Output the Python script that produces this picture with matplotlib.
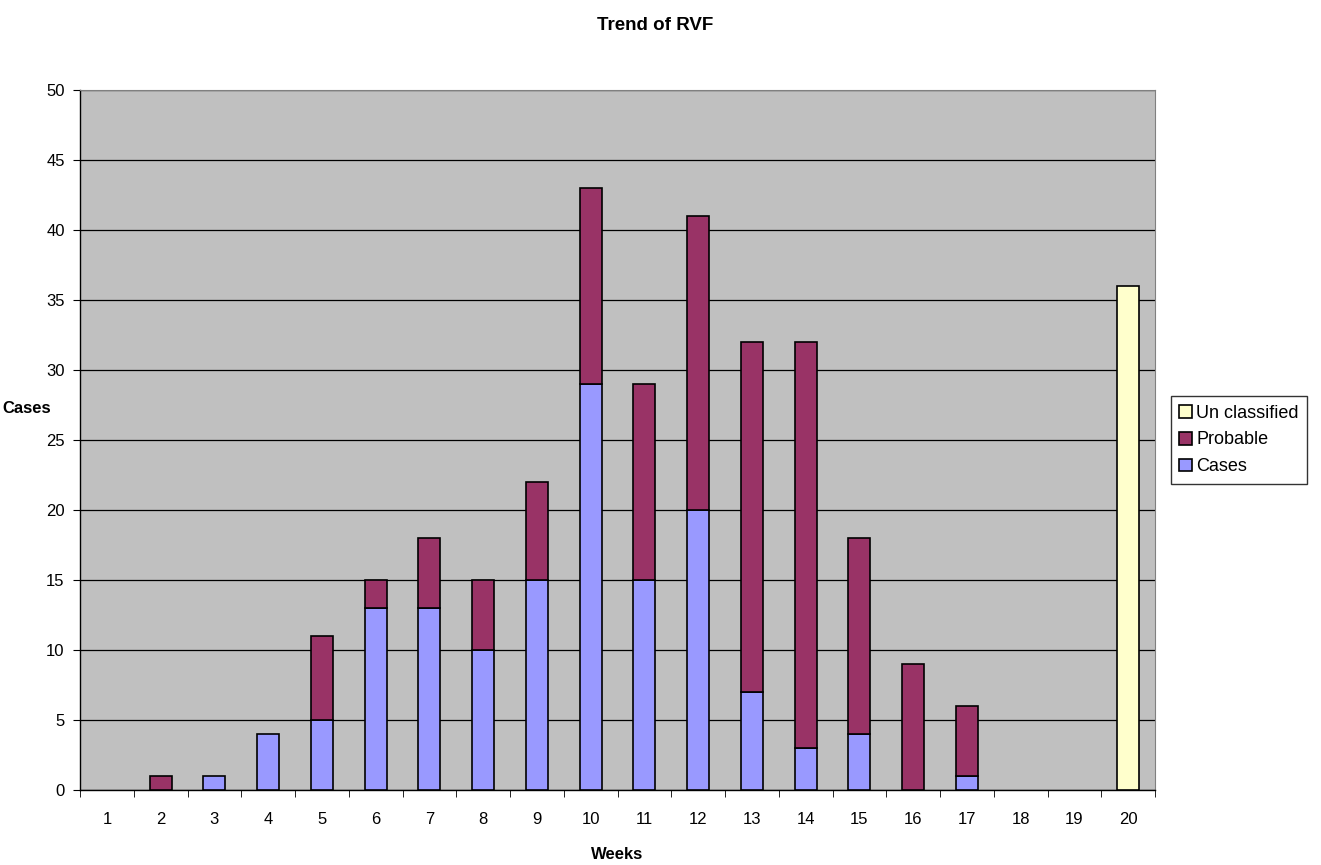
import matplotlib
matplotlib.use("Agg")
import matplotlib.pyplot as plt
import numpy as np

plt.rcParams['font.family'] = ['Liberation Sans', 'DejaVu Sans']

weeks = [str(i) for i in range(1, 21)]
cases = [0, 0, 1, 4, 5, 13, 13, 10, 15, 29, 15, 20, 7, 3, 4, 0, 1, 0, 0, 0]
probable = [0, 1, 0, 0, 6, 2, 5, 5, 7, 14, 14, 21, 25, 29, 14, 9, 5, 0, 0, 0]
unclassified = [0, 0, 0, 0, 0, 0, 0, 0, 0, 0, 0, 0, 0, 0, 0, 0, 0, 0, 0, 36]

fig = plt.figure(figsize=(13.21, 8.65), dpi=100)
ax = fig.add_axes([80/1321, 75/865, 1075/1321, 700/865])
ax.set_facecolor('#C0C0C0')

x = np.arange(len(weeks))
w = 0.41
cases_a = np.array(cases)
prob_a = np.array(probable)
unc_a = np.array(unclassified)

h_c = ax.bar(x[cases_a > 0], cases_a[cases_a > 0], w, color='#9999FF',
             edgecolor='black', linewidth=1.2, zorder=3)
h_p = ax.bar(x[prob_a > 0], prob_a[prob_a > 0], w, bottom=cases_a[prob_a > 0],
             color='#993366', edgecolor='black', linewidth=1.2, zorder=3)
h_u = ax.bar(x[unc_a > 0], unc_a[unc_a > 0], w, bottom=(cases_a + prob_a)[unc_a > 0],
             color='#FFFFCC', edgecolor='black', linewidth=1.2, zorder=3)

ax.set_xlim(-0.5, len(weeks) - 0.5)
ax.set_ylim(0, 50)
ax.set_yticks(range(0, 51, 5))
ax.yaxis.grid(True, color='black', linewidth=0.9, zorder=1)
ax.set_axisbelow(True)

ax.set_xticks(x)
ax.set_xticklabels(weeks)
ax.set_xticks(np.arange(-0.5, len(weeks), 1), minor=True)
ax.tick_params(axis='x', which='major', length=0, pad=16, labelsize=12)
ax.tick_params(axis='x', which='minor', length=5, direction='out', color='black')
ax.tick_params(axis='y', length=5, direction='out', labelsize=12, pad=6)

for s in ['left', 'bottom']:
    ax.spines[s].set_color('black')
    ax.spines[s].set_linewidth(1.0)
ax.spines['top'].set_color('#808080')
ax.spines['right'].set_color('#808080')

ax.set_xlabel('Weeks', fontsize=12, fontweight='bold', labelpad=14)
ax.set_ylabel('Cases', fontsize=12, fontweight='bold', rotation=0, labelpad=0)
ax.yaxis.set_label_coords(-0.05, 0.545)
ax.yaxis.label.set_va('center')

fig.text(655/1321, 1 - 25/865, 'Trend of RVF', ha='center', va='center',
         fontsize=13.5, fontweight='bold')

leg = fig.legend([h_u, h_p, h_c], ['Un classified', 'Probable', 'Cases'],
                 loc='center left', bbox_to_anchor=(1171/1321, 1 - 440/865),
                 frameon=True, fancybox=False, edgecolor='black',
                 fontsize=13, handlelength=0.7, handleheight=0.7,
                 handletextpad=0.25, borderpad=0.45, labelspacing=0.55,
                 borderaxespad=0)
leg.get_frame().set_linewidth(1.0)

fig.savefig('out.png', dpi=100)
